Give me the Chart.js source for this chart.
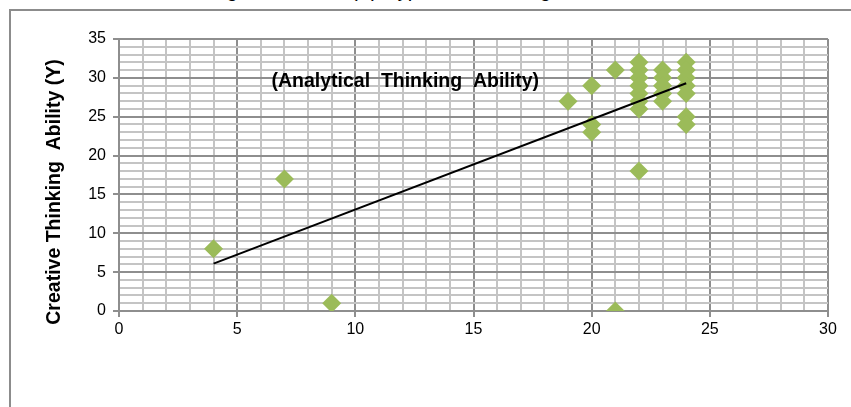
<!DOCTYPE html>
<html>
<head>
<meta charset="utf-8">
<script src="https://cdn.jsdelivr.net/npm/chart.js@4.4.1/dist/chart.umd.min.js"></script>
<style>
  html, body { margin: 0; padding: 0; background: #fff; }
  #wrap { position: relative; width: 851px; height: 407px; overflow: hidden; }
  #frame {
    position: absolute; left: 9px; top: 9px; width: 900px; height: 460px;
    border-left: 2px solid #8c8c8c; border-top: 2px solid #8c8c8c;
  }
  #topTitle {
    position: absolute; left: 201px; top: -21px;
    font: 20px "Liberation Sans", Arial, sans-serif; white-space: pre; color: #000;
  }
  canvas { position: absolute; left: 0; top: 0; }
</style>
</head>
<body>
<div id="wrap">
  <div id="frame"></div>
  <div id="topTitle">Regression Line (X) Hypothesis Testing</div>
  <canvas id="chart" width="851" height="407"></canvas>
</div>
<script>
'use strict';

// analytical thinking (X) vs creative thinking (Y)
const xValues = [4, 7, 9, 19, 20, 20, 20, 21, 21,
                 22, 22, 22, 22, 22, 22, 22, 22,
                 23, 23, 23, 23, 23,
                 24, 24, 24, 24, 24, 24, 24];
const yValues = [8, 17, 1, 27, 29, 24, 23, 31, 0,
                 32, 31, 30, 29, 28, 27, 26, 18,
                 31, 30, 29, 28, 27,
                 32, 31, 30, 29, 28, 25, 24];

// trendline ends as drawn
const trendX = [4, 24];
const trendY = [6.1, 29.3];

const xTicks = [0, 5, 10, 15, 20, 25, 30];
const yTicks = [0, 5, 10, 15, 20, 25, 30, 35];

const Y_TITLE = 'Creative Thinking  Ability (Y)';
const NOTE    = '(Analytical  Thinking  Ability)';

const FONT = '"Liberation Sans", Arial, sans-serif';
const MINOR = '#c4c4c4';
const MAJOR = '#8e8e8e';

const points = xValues.map((x, i) => ({ x, y: yValues[i] }));
const trend  = trendX.map((x, i) => ({ x, y: trendY[i] }));

const isMajor = (ctx, list) => list.includes(ctx.tick.value);

const textPlugin = {
  id: 'texts',
  afterDatasetsDraw(chart) {
    const { ctx, scales } = chart;
    ctx.save();
    ctx.fillStyle = '#000';

    // note inside plot
    ctx.font = 'bold 19.5px ' + FONT;
    ctx.textAlign = 'left';
    ctx.textBaseline = 'middle';
    ctx.fillText(NOTE, scales.x.getPixelForValue(6.45), scales.y.getPixelForValue(29.5));

    // y axis title
    ctx.translate(55, 192);
    ctx.rotate(-Math.PI / 2);
    ctx.textAlign = 'center';
    ctx.fillText(Y_TITLE, 0, 0);
    ctx.restore();
  }
};

new Chart(document.getElementById('chart'), {
  type: 'scatter',
  data: {
    datasets: [
      {
        type: 'line',
        data: trend,
        borderColor: '#000',
        borderWidth: 2,
        pointRadius: 0,
        fill: false,
      },
      {
        data: points,
        pointStyle: 'rectRot',
        pointRadius: 9.5,
        pointBackgroundColor: '#9bbb59',
        pointBorderWidth: 0,
        pointBorderColor: '#9bbb59',
      },
    ],
  },
  options: {
    responsive: false,
    animation: false,
    events: [],
    layout: { padding: { top: 39, right: 23, left: 0, bottom: 0 } },
    plugins: {
      legend: { display: false },
      tooltip: { enabled: false },
    },
    scales: {
      x: {
        type: 'linear',
        min: 0, max: 30,
        afterFit: s => { s.height = 96; },
        border: { color: MAJOR, width: 2 },
        grid: {
          lineWidth: 2,
          color: ctx => isMajor(ctx, xTicks) ? MAJOR : MINOR,
          tickColor: ctx => isMajor(ctx, xTicks) ? MAJOR : 'rgba(0,0,0,0)',
          tickLength: 6,
        },
        ticks: {
          stepSize: 1,
          autoSkip: false,
          maxRotation: 0,
          maxTicksLimit: 100,
          padding: 3,
          color: '#000',
          font: { family: FONT, size: 16 },
          callback: v => xTicks.includes(v) ? String(v) : '',
        },
      },
      y: {
        type: 'linear',
        min: 0, max: 35,
        afterFit: s => { s.width = 119; },
        border: { color: MAJOR, width: 2 },
        grid: {
          lineWidth: 2,
          color: ctx => isMajor(ctx, yTicks) ? MAJOR : MINOR,
          tickColor: ctx => isMajor(ctx, yTicks) ? MAJOR : 'rgba(0,0,0,0)',
          tickLength: 6,
        },
        ticks: {
          stepSize: 1,
          autoSkip: false,
          maxTicksLimit: 100,
          padding: 7,
          color: '#000',
          font: { family: FONT, size: 16 },
          callback: v => yTicks.includes(v) ? String(v) : '',
        },
      },
    },
  },
  plugins: [textPlugin],
});
</script>
</body>
</html>
